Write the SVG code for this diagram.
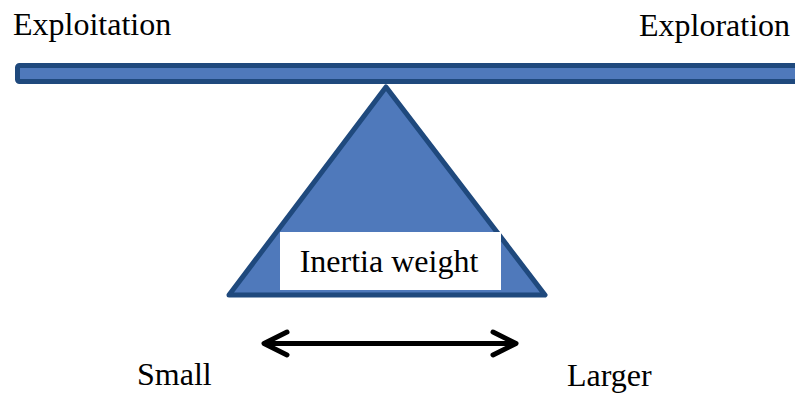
<svg xmlns="http://www.w3.org/2000/svg" width="795" height="394" viewBox="0 0 795 394">
<style>
text{font-family:"Liberation Serif","Times New Roman",serif;font-size:32px;fill:#000}
.shape{fill:#4F79BB;stroke:#1F497D;stroke-width:5;stroke-linejoin:round}
.arr{fill:none;stroke:#000;stroke-width:5;stroke-linecap:round;stroke-linejoin:round}
</style>
<rect width="795" height="394" fill="#fff"/>
<g id="beam"><rect class="shape" x="17.5" y="65.5" width="790" height="16" rx="2"/></g>
<g id="fulcrum"><polygon class="shape" points="386,87 545,295 229,295"/></g>
<g id="inertia-weight"><rect x="280" y="232" width="221" height="58" fill="#fff"/><text x="389" y="272" text-anchor="middle">Inertia weight</text></g>
<g id="exploitation"><text x="13" y="35">Exploitation</text></g>
<g id="exploration"><text x="639" y="36">Exploration</text></g>
<g id="small"><text x="137" y="385">Small</text></g>
<g id="larger"><text x="567" y="386">Larger</text></g>
<g id="connectors">
<line class="arr" x1="265" y1="343.5" x2="515" y2="343.5"/>
<polyline class="arr" points="287,332 264,343.5 287,355"/>
<polyline class="arr" points="493,332 516,343.5 493,355"/>
</g>
</svg>
